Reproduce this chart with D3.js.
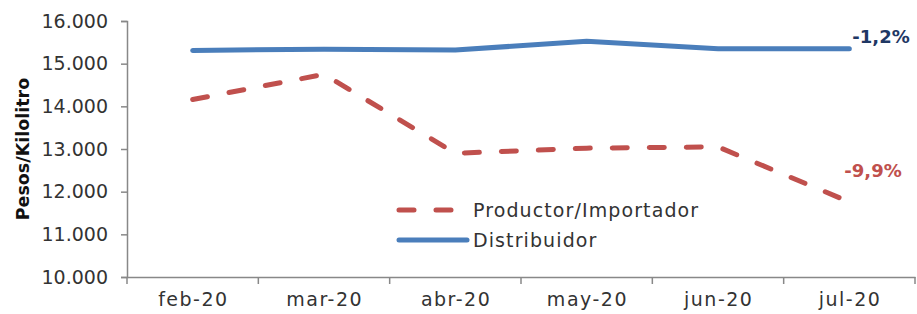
<!DOCTYPE html>
<html>
<head>
<meta charset="utf-8">
<script src="https://cdn.jsdelivr.net/npm/d3@7"></script>
<style>
  body { margin: 0; background: #fff; }
  text { font-family: "DejaVu Sans", "Noto Sans", sans-serif; }
</style>
</head>
<body>
<div id="chart"></div>
<script>
// data
var months = ["feb-20", "mar-20", "abr-20", "may-20", "jun-20", "jul-20"];
var productor = [14160, 14750, 12900, 13020, 13050, 11760];
var distribuidor = [15310, 15340, 15320, 15525, 15350, 15350];
var yTicks = [10000, 11000, 12000, 13000, 14000, 15000, 16000];
var seriesNames = ["Productor/Importador", "Distribuidor"];
var endLabels = ["-9,9%", "-1,2%"];

var margin = { top: 21, right: 2, bottom: 37, left: 127 };
var width = 917 - margin.left - margin.right;
var height = 314 - margin.top - margin.bottom;

var svg = d3.select("#chart").append("svg")
  .attr("width", 917)
  .attr("height", 314);

var g = svg.append("g")
  .attr("transform", "translate(" + margin.left + "," + margin.top + ")");

var x = d3.scaleBand().domain(months).range([0, width]);
var y = d3.scaleLinear().domain([10000, 16000]).range([height, 0]);

var fmt = function(d) { return d3.format(",")(d).replace(/,/g, "."); };

// y axis
var yAxis = g.append("g")
  .call(d3.axisLeft(y).tickValues(yTicks).tickFormat(fmt).tickSize(6).tickPadding(13));
yAxis.select(".domain").attr("stroke", "#888").attr("stroke-width", 1.5);
yAxis.selectAll(".tick line").attr("stroke", "#888").attr("stroke-width", 1.5);
yAxis.selectAll("text").attr("fill", "#333").style("font-size", "19px");

// x axis with ticks at band edges
var xAxis = g.append("g")
  .attr("transform", "translate(0," + height + ")")
  .call(d3.axisBottom(x).tickSize(0).tickPadding(16));
xAxis.select(".domain").attr("stroke", "#888").attr("stroke-width", 1.5);
xAxis.selectAll("text").attr("fill", "#333")
  .style("font-size", "19px").style("letter-spacing", "1.5px")
  .attr("dx", "0.75px");
xAxis.selectAll(".edge")
  .data(months.concat(["end"]))
  .enter().append("line")
  .attr("x1", function(d, i) { return i * x.step(); })
  .attr("x2", function(d, i) { return i * x.step(); })
  .attr("y1", 0).attr("y2", 7)
  .attr("stroke", "#888").attr("stroke-width", 1.5);

// title
svg.append("text")
  .attr("transform", "translate(29," + (margin.top + height / 2) + ") rotate(-90)")
  .attr("text-anchor", "middle")
  .style("font-size", "17.5px")
  .style("font-weight", "bold")
  .attr("fill", "#111")
  .text("Pesos/Kilolitro");

var line = d3.line()
  .x(function(d, i) { return x(months[i]) + x.bandwidth() / 2; })
  .y(function(d) { return y(d); });

var colors = ["#c0504d", "#4a7ebb"];

g.append("path")
  .datum(distribuidor)
  .attr("d", line)
  .attr("fill", "none")
  .attr("stroke", colors[1])
  .attr("stroke-width", 5)
  .attr("stroke-linecap", "round");

g.append("path")
  .datum(productor)
  .attr("d", line)
  .attr("fill", "none")
  .attr("stroke", colors[0])
  .attr("stroke-width", 5)
  .attr("stroke-dasharray", "15,22")
  .attr("stroke-linecap", "round");

// end labels
var lastX = x(months[5]) + x.bandwidth() / 2;
g.append("text")
  .attr("x", lastX + 3).attr("y", y(distribuidor[5]) - 6)
  .style("font-size", "18px").style("font-weight", "bold")
  .attr("fill", "#1f3864")
  .text(endLabels[1]);
g.append("text")
  .attr("x", lastX - 5).attr("y", y(productor[5]) - 25)
  .style("font-size", "18px").style("font-weight", "bold")
  .attr("fill", colors[0])
  .text(endLabels[0]);

// legend
var legend = svg.append("g").attr("transform", "translate(399,210)");
legend.append("line")
  .attr("x1", 0).attr("x2", 56).attr("y1", 0).attr("y2", 0)
  .attr("stroke", colors[0]).attr("stroke-width", 5)
  .attr("stroke-dasharray", "15,22").attr("stroke-linecap", "round");
legend.append("text")
  .attr("x", 74).attr("y", 0).attr("dy", "0.35em")
  .style("font-size", "19px").style("letter-spacing", "1.1px").attr("fill", "#333")
  .text(seriesNames[0]);
legend.append("line")
  .attr("x1", 0).attr("x2", 68).attr("y1", 30).attr("y2", 30)
  .attr("stroke", colors[1]).attr("stroke-width", 5)
  .attr("stroke-linecap", "round");
legend.append("text")
  .attr("x", 74).attr("y", 30).attr("dy", "0.35em")
  .style("font-size", "19px").style("letter-spacing", "1.1px").attr("fill", "#333")
  .text(seriesNames[1]);
</script>
</body>
</html>
